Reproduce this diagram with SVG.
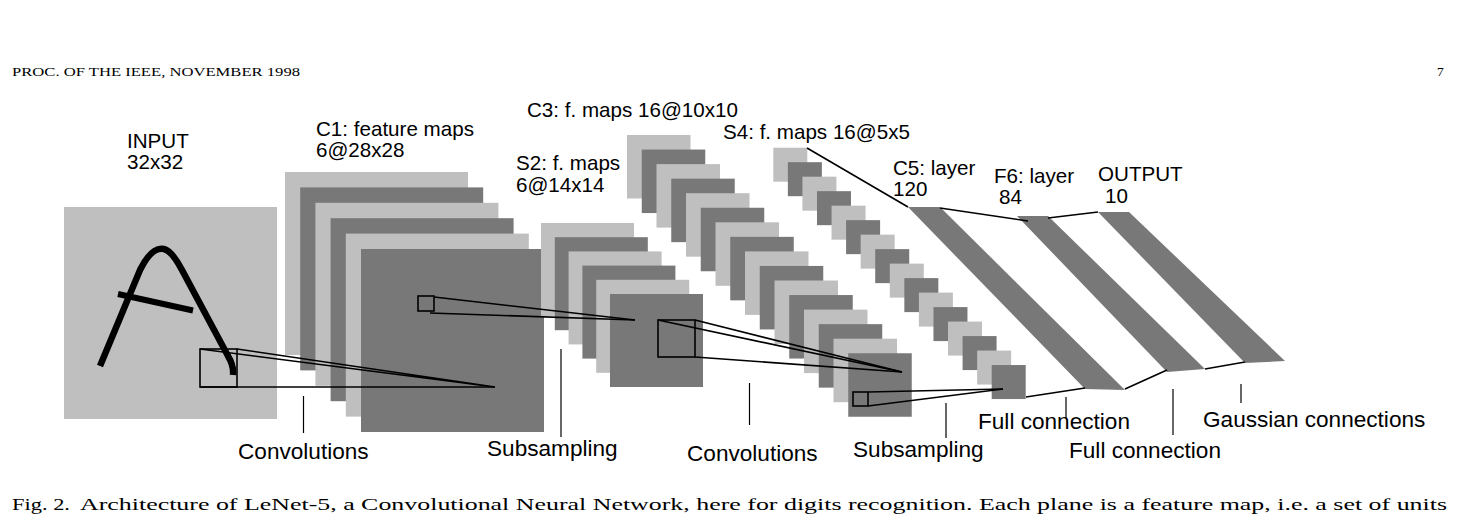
<svg xmlns="http://www.w3.org/2000/svg" width="1459" height="527" viewBox="0 0 1459 527">
<style>
.l{fill:#bfbfbf}
.d{fill:#787878}
.ln{stroke:#000;stroke-width:1.6;fill:none}
.tk{stroke:#000;stroke-width:1.2}
.t{font-family:"Liberation Sans",Arial,sans-serif;font-size:20.6px;fill:#000}
.b{font-family:"Liberation Sans",Arial,sans-serif;font-size:22.6px;fill:#000}
.s{font-family:"Liberation Serif","Times New Roman",serif;fill:#000}
</style>
<rect width="1459" height="527" fill="#fff"/>
<text class="s" x="12" y="76" font-size="13" textLength="288" lengthAdjust="spacingAndGlyphs">PROC. OF THE IEEE, NOVEMBER 1998</text>
<text class="s" x="1437" y="76" font-size="13.5">7</text>

<g id="input">
<rect class="l" x="64" y="207" width="213" height="212"/>
<path d="M100,366 L140,270 Q152,246 164,249 Q172,251 182,270 L228,356 Q234,366 233,375" stroke="#000" stroke-width="6.5" fill="none"/>
<line x1="118" y1="294" x2="193" y2="310.5" stroke="#000" stroke-width="6"/>
<rect x="200" y="349" width="37" height="38" fill="none" stroke="#000" stroke-width="1.6"/>
</g>

<g id="c1">
<rect class="l" x="285" y="172" width="183" height="183"/>
<rect class="d" x="300.2" y="187.4" width="183" height="183"/>
<rect class="l" x="315.4" y="202.8" width="183" height="183"/>
<rect class="d" x="330.6" y="218.2" width="183" height="183"/>
<rect class="l" x="345.8" y="233.6" width="183" height="183"/>
<rect class="d" x="361" y="249" width="183" height="183"/>
<rect x="418" y="296" width="16" height="15" fill="none" stroke="#000" stroke-width="1.6"/>
</g>

<g id="s2">
<rect class="l" x="541" y="223" width="93" height="93"/>
<rect class="d" x="554.8" y="237.2" width="93" height="93"/>
<rect class="l" x="568.6" y="251.4" width="93" height="93"/>
<rect class="d" x="582.4" y="265.6" width="93" height="93"/>
<rect class="l" x="596.2" y="279.8" width="93" height="93"/>
<rect class="d" x="610" y="294" width="93" height="93"/>
<rect x="658" y="320" width="37" height="37" fill="none" stroke="#000" stroke-width="1.6"/>
</g>

<g id="c3">
<rect class="l" x="627" y="135" width="63.5" height="63.5"/>
<rect class="d" x="641.75" y="149.55" width="63.5" height="63.5"/>
<rect class="l" x="656.5" y="164.1" width="63.5" height="63.5"/>
<rect class="d" x="671.25" y="178.65" width="63.5" height="63.5"/>
<rect class="l" x="686" y="193.2" width="63.5" height="63.5"/>
<rect class="d" x="700.75" y="207.75" width="63.5" height="63.5"/>
<rect class="l" x="715.5" y="222.3" width="63.5" height="63.5"/>
<rect class="d" x="730.25" y="236.85" width="63.5" height="63.5"/>
<rect class="l" x="745" y="251.4" width="63.5" height="63.5"/>
<rect class="d" x="759.75" y="265.95" width="63.5" height="63.5"/>
<rect class="l" x="774.5" y="280.5" width="63.5" height="63.5"/>
<rect class="d" x="789.25" y="295.05" width="63.5" height="63.5"/>
<rect class="l" x="804" y="309.6" width="63.5" height="63.5"/>
<rect class="d" x="818.75" y="324.15" width="63.5" height="63.5"/>
<rect class="l" x="833.5" y="338.7" width="63.5" height="63.5"/>
<rect class="d" x="848.25" y="353.25" width="63.5" height="63.5"/>
<rect x="853" y="392" width="15" height="14" fill="none" stroke="#000" stroke-width="1.6"/>
</g>

<g id="s4">
<rect class="l" x="773.3" y="147.7" width="34" height="34"/>
<rect class="d" x="787.86" y="162.19" width="34" height="34"/>
<rect class="l" x="802.42" y="176.68" width="34" height="34"/>
<rect class="d" x="816.98" y="191.17" width="34" height="34"/>
<rect class="l" x="831.54" y="205.66" width="34" height="34"/>
<rect class="d" x="846.1" y="220.15" width="34" height="34"/>
<rect class="l" x="860.66" y="234.64" width="34" height="34"/>
<rect class="d" x="875.22" y="249.13" width="34" height="34"/>
<rect class="l" x="889.78" y="263.62" width="34" height="34"/>
<rect class="d" x="904.34" y="278.11" width="34" height="34"/>
<rect class="l" x="918.9" y="292.6" width="34" height="34"/>
<rect class="d" x="933.46" y="307.09" width="34" height="34"/>
<rect class="l" x="948.02" y="321.58" width="34" height="34"/>
<rect class="d" x="962.58" y="336.07" width="34" height="34"/>
<rect class="l" x="977.14" y="350.56" width="34" height="34"/>
<rect class="d" x="991.7" y="365.05" width="34" height="34"/>
</g>

<g id="c5">
<polygon class="d" points="908,207 940,207 1125,390 1085,389"/>
</g>
<g id="f6">
<polygon class="d" points="1017,216 1048,216 1205,369 1167,372"/>
</g>
<g id="output">
<polygon class="d" points="1098,212 1129,212 1285,361 1245,363"/>
</g>

<g id="connectors">
<polyline class="ln" points="237,349 495,387 200,349"/>
<line class="ln" x1="200" y1="387" x2="495" y2="387"/>
<line class="ln" x1="434" y1="297" x2="635" y2="320"/>
<line class="ln" x1="430" y1="313" x2="635" y2="320"/>
<line class="ln" x1="658" y1="320" x2="902" y2="372"/>
<line class="ln" x1="695" y1="320" x2="902" y2="372"/>
<line class="ln" x1="695" y1="357" x2="902" y2="372"/>
<line class="ln" x1="868" y1="392" x2="1003" y2="389"/>
<line class="ln" x1="868" y1="406" x2="1003" y2="389"/>
<line class="ln" x1="807" y1="148" x2="908" y2="207"/>
<line class="ln" x1="940" y1="208" x2="1028" y2="221"/>
<line class="ln" x1="1048" y1="218" x2="1098" y2="212"/>
<line class="ln" x1="1026" y1="397" x2="1085" y2="388"/>
<line class="ln" x1="1125" y1="389" x2="1167" y2="370"/>
<line class="ln" x1="1205" y1="369" x2="1245" y2="362"/>
<line class="tk" x1="303.5" y1="396" x2="303.5" y2="433"/>
<line class="tk" x1="561" y1="349" x2="561" y2="437"/>
<line class="tk" x1="749.5" y1="383" x2="749.5" y2="425"/>
<line class="tk" x1="946" y1="403" x2="946" y2="438"/>
<line class="tk" x1="1066" y1="397" x2="1066" y2="418"/>
<line class="tk" x1="1173" y1="389" x2="1173" y2="435"/>
<line class="tk" x1="1241" y1="384" x2="1241" y2="403"/>
</g>

<g id="labels">
<text class="t" x="127" y="148">INPUT</text>
<text class="t" x="127" y="169">32x32</text>
<text class="t" x="316" y="136">C1: feature maps</text>
<text class="t" x="316" y="157">6@28x28</text>
<text class="t" x="516" y="170">S2: f. maps</text>
<text class="t" x="516" y="192">6@14x14</text>
<text class="t" x="527" y="117">C3: f. maps 16@10x10</text>
<text class="t" x="723" y="139">S4: f. maps 16@5x5</text>
<text class="t" x="893" y="175">C5: layer</text>
<text class="t" x="893" y="196">120</text>
<text class="t" x="994" y="183">F6: layer</text>
<text class="t" x="999" y="204">84</text>
<text class="t" x="1098" y="181">OUTPUT</text>
<text class="t" x="1105" y="203">10</text>
<text class="b" x="238" y="459">Convolutions</text>
<text class="b" x="487" y="456">Subsampling</text>
<text class="b" x="687" y="461">Convolutions</text>
<text class="b" x="853" y="457">Subsampling</text>
<text class="b" x="978" y="429">Full connection</text>
<text class="b" x="1069" y="458">Full connection</text>
<text class="b" x="1203" y="427">Gaussian connections</text>
</g>

<text class="s" x="12" y="510" font-size="17.5" textLength="58" lengthAdjust="spacingAndGlyphs">Fig. 2.</text>
<text class="s" x="80" y="510" font-size="17.5" textLength="1367" lengthAdjust="spacingAndGlyphs">Architecture of LeNet-5, a Convolutional Neural Network, here for digits recognition. Each plane is a feature map, i.e. a set of units</text>
</svg>
